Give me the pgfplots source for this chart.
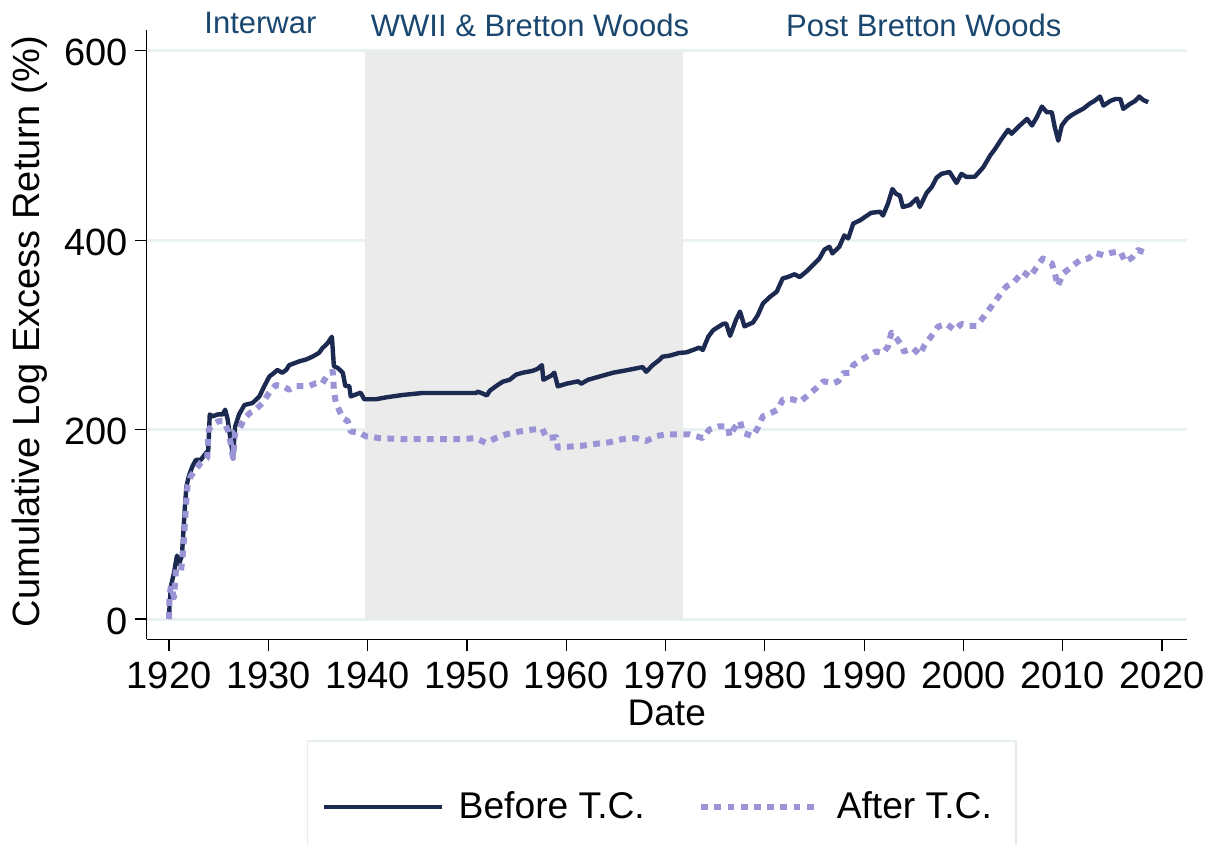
\documentclass[border=0pt]{standalone}
\usepackage{pgfplots}
\pgfplotsset{compat=1.18}
\usepackage{fontspec}
\setmainfont{Liberation Sans}
\definecolor{navyline}{HTML}{1C2A52}
\definecolor{lavline}{HTML}{9A94D6}
\definecolor{titleblue}{HTML}{1A476F}
\definecolor{shadec}{HTML}{EBEBEB}
\definecolor{gridc}{HTML}{EAF1F3}
\definecolor{legendc}{HTML}{E6EDEF}
\begin{document}
\begin{tikzpicture}
\begin{axis}[
  x=4.965pt, y=0.4736pt,
  xmin=1917.75, xmax=2022.5, ymin=-21.4, ymax=621.9,
  axis x line*=bottom, axis y line*=left,
  axis line style={black, line width=0.6pt, -},
  xtick={1920,1930,...,2020}, ytick={0,200,400,600},
  tick align=outside, major tick length=6pt,
  tick style={black, line width=0.6pt},
  /pgf/number format/assume math mode=true,
  ticklabel style={font=\fontsize{19}{22}\selectfont, inner sep=0pt},
  xticklabel style={/pgf/number format/1000 sep={}, anchor=north, yshift=-5.2pt},
  yticklabel style={anchor=east, xshift=-3.25pt, yshift=-1pt},
  ymajorgrids, grid style={gridc, line width=1.5pt},
  xlabel={Date}, ylabel={Cumulative Log Excess Return (\%)},
  xlabel style={font=\fontsize{18.5}{22}\selectfont, at={(axis description cs:0.5,0)}, anchor=north, inner sep=0pt, yshift=-30.35pt},
  ylabel style={font=\fontsize{19}{22}\selectfont, at={(axis description cs:0,0.5)}, anchor=center, yshift=58.7pt, xshift=1.6pt},
  clip=false,
  legend style={at={(axis description cs:0.1541,-0.1653)}, anchor=north west,
    draw=legendc, line width=0.75pt, inner xsep=7pt, inner ysep=25.5pt,
    font=\fontsize{18.6}{22}\selectfont,
    /tikz/every even column/.append style={column sep=26.7pt},
    /tikz/every odd column/.append style={column sep=7.5pt},
    nodes={inner sep=0pt}, cells={anchor=west}},
  legend columns=2,
  legend image code/.code={\draw[#1] (0pt,0pt) -- (58.8pt,0pt);},
]
\addplot[fill=shadec, draw=none, forget plot] coordinates {(1939.74,0) (1939.74,600) (1971.8,600) (1971.8,0)} -- cycle;

\addplot[navyline, line width=2.2pt, line join=round] coordinates {
(1920.0,0) (1920.05,14) (1920.2,35) (1920.5,49) (1920.8,67) (1921.0,58) (1921.3,67) (1921.6,119) (1921.75,140)
(1922.0,151) (1922.35,161) (1922.7,168) (1923.2,168) (1923.7,175) (1923.95,178) (1924.1,216) (1924.4,214)
(1924.9,216) (1925.4,216) (1925.65,221) (1925.9,211) (1926.2,189) (1926.45,172) (1926.65,203) (1927.05,216)
(1927.6,226) (1928.4,228) (1929.1,235) (1929.6,246) (1930.1,256) (1930.6,260) (1930.9,263) (1931.4,260)
(1931.8,263) (1932.1,268) (1932.6,270) (1933.1,272) (1933.8,274) (1934.45,277) (1935.1,281) (1935.45,286)
(1935.95,291) (1936.4,298) (1936.6,267) (1937.0,265) (1937.5,260) (1937.75,246) (1938.15,246) (1938.3,235)
(1938.8,237) (1939.3,239) (1939.65,232) (1940.8,232) (1941.85,234) (1943.5,236.5) (1945.5,238.6) (1948.6,238.6)
(1950.9,238.6) (1951.1,240) (1951.6,238) (1952.0,236) (1952.3,241) (1952.95,246) (1953.6,250.5) (1954.3,252.6)
(1954.95,258) (1955.6,260) (1956.6,262) (1957.1,264) (1957.55,268) (1957.7,252.6) (1958.5,257) (1958.8,260)
(1959.15,245.6) (1960.0,248.4) (1961.2,251) (1961.5,248.4) (1962.2,252.6) (1963.35,256) (1964.7,260) (1966.0,262.5)
(1967.7,266) (1968.05,261) (1968.7,268) (1969.4,273.7) (1969.7,277) (1970.4,278) (1971.4,281) (1972.1,281.5)
(1972.75,284) (1973.4,286.5) (1973.75,284) (1974.3,298) (1974.8,305) (1975.8,311.6) (1976.1,312) (1976.5,299)
(1977.1,316) (1977.5,324.6) (1977.95,309) (1978.8,313) (1979.3,321) (1979.8,333) (1980.5,340) (1981.2,345.6)
(1981.8,359.6) (1982.3,361) (1983.0,364) (1983.5,361) (1984.2,367) (1984.85,373.7) (1985.5,380.7) (1986.0,390)
(1986.5,393) (1986.8,386) (1987.5,393) (1988.0,405) (1988.4,401.8) (1988.9,417.5) (1989.6,421) (1990.1,424.6)
(1990.7,428.8) (1991.6,430) (1991.9,426) (1992.4,438.6) (1992.85,454) (1993.2,449) (1993.6,447) (1993.9,435)
(1994.6,437) (1995.3,444) (1995.6,435) (1996.3,450) (1996.8,456) (1997.3,466) (1997.8,470) (1998.6,472)
(1999.3,460.4) (1999.8,470) (2000.3,466.7) (2001.15,467) (2002.0,477) (2002.7,489.5) (2003.2,496.5) (2003.85,507)
(2004.5,516.5) (2004.85,512.3) (2005.5,519.3) (2006.4,528) (2006.9,521) (2007.4,530) (2007.9,541) (2008.4,535)
(2008.9,535) (2009.2,519) (2009.55,505) (2009.9,521) (2010.4,528) (2010.9,532) (2011.4,535) (2012.1,539)
(2012.7,544) (2013.2,547) (2013.75,551.6) (2014.1,542) (2014.8,547) (2015.3,549) (2015.8,549) (2016.1,538.6)
(2016.8,544) (2017.3,547) (2017.7,551.6) (2018.1,548) (2018.6,545.6)
};
\addlegendentry{Before T.C.}

\addplot[lavline, line width=3pt, line join=round, dash pattern=on 3.4pt off 3.2pt] coordinates {
(1920.0,0) (1920.05,25) (1920.2,35) (1920.5,23) (1920.7,53) (1921.2,51) (1921.35,63) (1921.5,84) (1921.7,119)
(1921.85,140) (1922.2,151) (1922.7,158) (1923.2,165) (1923.85,170) (1924.0,200) (1924.4,205) (1925.0,209)
(1925.5,209) (1925.9,200) (1926.2,186) (1926.45,170) (1926.65,197) (1927.05,200) (1927.6,212) (1928.2,218)
(1928.7,221) (1929.4,228) (1930.1,239) (1930.75,247) (1931.4,246) (1932.1,242) (1932.8,246) (1933.4,246)
(1934.1,246) (1934.8,249) (1935.45,249) (1936.1,260) (1936.5,261) (1936.6,242) (1936.8,228) (1937.5,212)
(1938.0,209) (1938.3,198) (1939.15,197) (1939.8,193) (1941.2,191) (1943.5,190) (1946.9,190) (1949.6,190)
(1950.9,191) (1951.9,186) (1952.9,191) (1953.95,195) (1955.3,198) (1956.6,200) (1957.6,200.7) (1958.0,191)
(1959.0,192) (1959.15,181) (1960.3,182) (1961.65,183) (1963.0,185) (1964.35,186.6) (1965.7,190) (1967.0,191)
(1968.05,188) (1969.05,193) (1970.05,195) (1971.4,195) (1972.4,195) (1973.75,191) (1974.4,200) (1975.4,203.5)
(1976.3,203.5) (1976.45,193) (1976.95,202) (1977.5,209) (1977.8,196.5) (1978.8,193) (1979.3,202) (1979.8,214)
(1980.6,217.5) (1981.3,221) (1981.8,231.6) (1982.8,232) (1983.5,229) (1984.2,235) (1985.2,244) (1985.9,251)
(1986.9,249) (1987.4,251) (1987.9,259.6) (1988.6,260) (1988.9,268) (1989.7,273.7) (1990.6,279) (1991.2,282.5)
(1991.9,280.7) (1992.4,287.7) (1992.75,302.5) (1993.25,296.5) (1993.85,287.7) (1994.0,282.5) (1994.9,286)
(1995.6,279) (1996.1,289.5) (1996.8,299) (1997.45,308.8) (1998.3,311.6) (1999.1,305) (1999.8,311.6)
(2000.6,309.5) (2001.3,309.5) (2001.8,315.8) (2002.3,322.8) (2003.0,332.6) (2003.65,342) (2004.3,351)
(2005.1,356) (2006.0,366.6) (2006.7,361) (2007.4,372) (2008.0,380.7) (2008.9,375.4) (2009.2,365) (2009.5,351.6)
(2010.05,365) (2010.9,372) (2011.75,379) (2012.6,380.7) (2013.25,386.7) (2014.1,384) (2014.9,386.7)
(2015.8,388) (2016.3,377) (2017.0,381.7) (2017.6,389.5) (2018.5,386)
};
\addlegendentry{After T.C.\hspace*{5pt}}

\node[anchor=base, font=\fontsize{15.5}{18}\selectfont, text=titleblue] at (axis cs:1929.2,618.4) {Interwar};
\node[anchor=base, font=\fontsize{15.5}{18}\selectfont, text=titleblue] at (axis cs:1956.35,615.0) {WWII \& Bretton Woods};
\node[anchor=base, font=\fontsize{15.5}{18}\selectfont, text=titleblue] at (axis cs:1996.0,615.0) {Post Bretton Woods};
\coordinate (BL) at (axis cs:1917.75,-21.4);
\end{axis}
\pgfresetboundingbox
\path[use as bounding box] (BL) ++(-73.35pt,-102.85pt) rectangle ++(610.5pt,422.5pt);
\end{tikzpicture}
\end{document}
